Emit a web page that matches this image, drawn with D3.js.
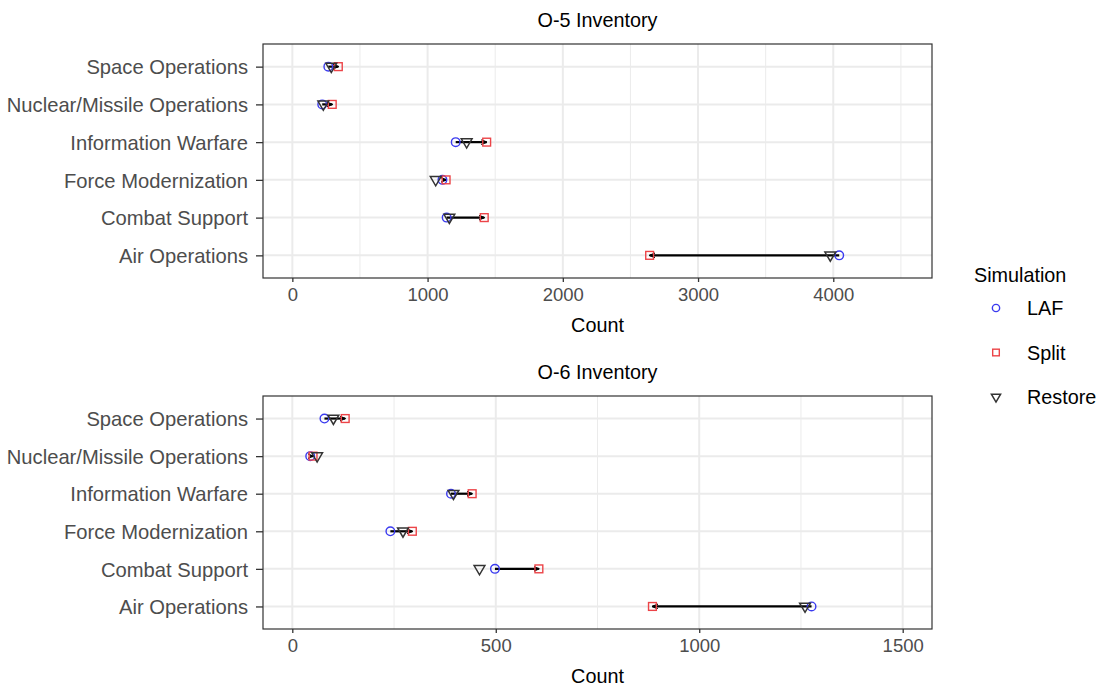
<!DOCTYPE html>
<html><head><meta charset="utf-8">
<script src="https://cdn.jsdelivr.net/npm/d3@7"></script>
<style>
body{margin:0;background:#fff;}
text{font-family:"Liberation Sans",Arial,Helvetica,sans-serif;}
</style></head>
<body><svg id="c" width="1104" height="686"></svg>
<script>
const categories = ["Space Operations","Nuclear/Missile Operations","Information Warfare","Force Modernization","Combat Support","Air Operations"];
const seriesNames = ["LAF","Split","Restore"];
// values listed in the same order as categories
const o5LAF     = [266, 221, 1208, 1110, 1141, 4044];
const o5Split   = [340, 295, 1437, 1137, 1419, 2642];
const o5Restore = [288, 229, 1289, 1060, 1161, 3978];
const o6LAF     = [79, 44, 390, 241, 498, 1276];
const o6Split   = [130, 51, 442, 295, 606, 885];
const o6Restore = [101, 61, 396, 272, 460, 1260];
const o5Ticks = [0,1000,2000,3000,4000];
const o5Minor = [500,1500,2500,3500,4500];
const o6Ticks = [0,500,1000,1500];
const o6Minor = [250,750,1250];

const colors = {LAF:"#3a3aef", Split:"#ec4448", Restore:"#333333"};
const svg = d3.select("#c");
const L = 263, R = 932;

const defs = svg.append("defs");
defs.append("marker").attr("id","arr").attr("viewBox","0 0 10 10").attr("refX",9).attr("refY",5)
  .attr("markerWidth",6).attr("markerHeight",6).attr("markerUnits","userSpaceOnUse").attr("orient","auto")
  .append("path").attr("d","M0,1 L9,5 L0,9").attr("fill","none").attr("stroke","#000").attr("stroke-width",2);

function symbol(g, name, x, y, s){
  const c = colors[name];
  if(name==="LAF"){
    g.append("circle").attr("cx",x).attr("cy",y).attr("r",4.3*s).attr("fill","none").attr("stroke",c).attr("stroke-width",1.4);
  } else if(name==="Split"){
    const h=3.9*s;
    g.append("rect").attr("x",x-h).attr("y",y-h).attr("width",2*h).attr("height",2*h).attr("fill","none").attr("stroke",c).attr("stroke-width",1.4);
  } else {
    const w=5.4*s, hh=4.6*s;
    g.append("path").attr("d",`M${x-w},${y-hh*0.72}L${x+w},${y-hh*0.72}L${x},${y+hh*1.28}Z`).attr("fill","none").attr("stroke",c).attr("stroke-width",1.5).attr("stroke-linejoin","miter");
  }
}

function panel(title, top, bottom, domain, ticks, minor, laf, split, restore){
  const x = d3.scaleLinear().domain(domain).range([L,R]);
  const y = d3.scalePoint().domain(categories).range([top,bottom]).padding(0.6);
  const g = svg.append("g");
  // grid
  g.selectAll(".mn").data(minor).join("line").attr("x1",d=>x(d)).attr("x2",d=>x(d)).attr("y1",top).attr("y2",bottom).attr("stroke","#ebebeb").attr("stroke-width",1);
  g.selectAll(".mj").data(ticks).join("line").attr("x1",d=>x(d)).attr("x2",d=>x(d)).attr("y1",top).attr("y2",bottom).attr("stroke","#ebebeb").attr("stroke-width",2);
  g.selectAll(".yg").data(categories).join("line").attr("x1",L).attr("x2",R).attr("y1",d=>y(d)).attr("y2",d=>y(d)).attr("stroke","#ebebeb").attr("stroke-width",2);
  // segments LAF -> Split
  g.selectAll(".seg").data(categories).join("line")
    .attr("x1",(d,i)=>x(laf[i])).attr("x2",(d,i)=>x(split[i])).attr("y1",d=>y(d)).attr("y2",d=>y(d))
    .attr("stroke","#000").attr("stroke-width",2.2).attr("marker-end","url(#arr)");
  // points
  categories.forEach((c,i)=>{
    symbol(g,"LAF",x(laf[i]),y(c),1);
    symbol(g,"Split",x(split[i]),y(c),1);
    symbol(g,"Restore",x(restore[i]),y(c),1);
  });
  // border
  g.append("rect").attr("x",L).attr("y",top).attr("width",R-L).attr("height",bottom-top).attr("fill","none").attr("stroke","#333").attr("stroke-width",1.2);
  // axes
  const xa = g.append("g").attr("transform",`translate(0,${bottom})`).call(d3.axisBottom(x).tickValues(ticks).tickSize(4).tickPadding(6).tickFormat(d3.format("d")));
  xa.select(".domain").remove();
  xa.selectAll("line").attr("stroke","#333").attr("stroke-width",1.3);
  xa.selectAll("text").attr("fill","#4d4d4d").style("font-size","18.5px").style("font-family","Liberation Sans, Arial, sans-serif");
  const ya = g.append("g").attr("transform",`translate(${L},0)`).call(d3.axisLeft(y).tickSize(7).tickPadding(8));
  ya.select(".domain").remove();
  ya.selectAll("line").attr("stroke","#333").attr("stroke-width",1.3);
  ya.selectAll("text").attr("fill","#4d4d4d").style("font-size","20.2px").style("font-family","Liberation Sans, Arial, sans-serif").attr("dy","0.36em");
  // titles
  svg.append("text").attr("x",(L+R)/2).attr("y",top-17).attr("text-anchor","middle").style("font-size","19.8px").attr("fill","#000").text(title);
  svg.append("text").attr("x",(L+R)/2).attr("y",bottom+54).attr("text-anchor","middle").style("font-size","19.8px").attr("fill","#000").text("Count");
}

panel("O-5 Inventory", 44, 278, [-217, 4730], o5Ticks, o5Minor, o5LAF, o5Split, o5Restore);
panel("O-6 Inventory", 396, 629, [-72, 1572], o6Ticks, o6Minor, o6LAF, o6Split, o6Restore);

// legend
const lg = svg.append("g");
lg.append("text").attr("x",974).attr("y",282).style("font-size","19.8px").attr("fill","#000").text("Simulation");
seriesNames.forEach((n,i)=>{
  const yy = 308 + i*44.5;
  symbol(lg,n,996,yy,0.85);
  lg.append("text").attr("x",1027).attr("y",yy+7).style("font-size","19.8px").attr("fill","#000").text(n);
});
</script></body></html>
